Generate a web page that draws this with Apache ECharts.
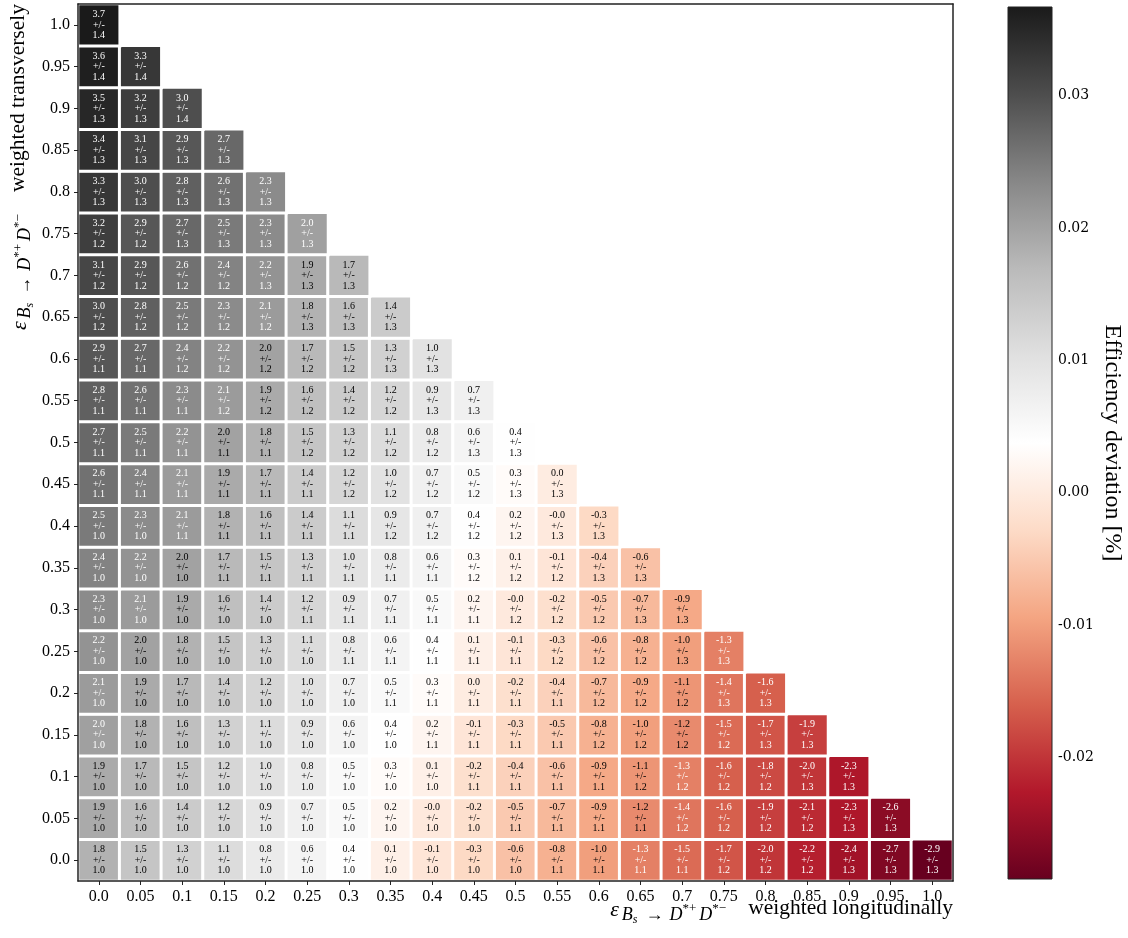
<!DOCTYPE html>
<html><head><meta charset="utf-8">
<script src="https://cdn.jsdelivr.net/npm/echarts@6/dist/echarts.min.js"></script>
<style>html,body{margin:0;padding:0;background:#fff}#c{width:1128px;height:938px}</style>
</head><body><div id="c"></div>
<script>
// ---------- data ----------
const xLabels = ['0.0','0.05','0.1','0.15','0.2','0.25','0.3','0.35','0.4','0.45','0.5','0.55','0.6','0.65','0.7','0.75','0.8','0.85','0.9','0.95','1.0'];
const yLabels = ['0.0','0.05','0.1','0.15','0.2','0.25','0.3','0.35','0.4','0.45','0.5','0.55','0.6','0.65','0.7','0.75','0.8','0.85','0.9','0.95','1.0'];
// valueRows[j] = efficiency deviation [%] for y = yLabels[j], x = xLabels[0..]
const valueRows = [
  [1.8,1.5,1.3,1.1,0.8,0.6,0.4,0.1,-0.1,-0.3,-0.6,-0.8,-1.0,-1.3,-1.5,-1.7,-2.0,-2.2,-2.4,-2.7,-2.92],
  [1.9,1.6,1.4,1.2,0.9,0.7,0.5,0.2,-0.02,-0.2,-0.5,-0.7,-0.9,-1.2,-1.4,-1.6,-1.9,-2.1,-2.3,-2.6],
  [1.9,1.7,1.5,1.2,1.0,0.8,0.5,0.3,0.1,-0.2,-0.4,-0.6,-0.9,-1.1,-1.3,-1.6,-1.8,-2.0,-2.3],
  [2.03,1.8,1.6,1.3,1.1,0.9,0.6,0.4,0.2,-0.1,-0.3,-0.5,-0.8,-1.0,-1.2,-1.5,-1.7,-1.9],
  [2.1,1.9,1.7,1.4,1.2,1.0,0.7,0.5,0.3,0.02,-0.2,-0.4,-0.7,-0.9,-1.1,-1.4,-1.6],
  [2.2,2.0,1.8,1.5,1.3,1.1,0.8,0.6,0.4,0.1,-0.1,-0.3,-0.6,-0.8,-1.0,-1.3],
  [2.3,2.1,1.9,1.6,1.4,1.2,0.9,0.7,0.5,0.2,-0.02,-0.2,-0.5,-0.7,-0.9],
  [2.4,2.2,2.0,1.7,1.5,1.3,1.0,0.8,0.6,0.3,0.1,-0.1,-0.4,-0.6],
  [2.5,2.3,2.1,1.8,1.6,1.4,1.1,0.9,0.7,0.4,0.2,-0.02,-0.3],
  [2.6,2.4,2.1,1.9,1.7,1.4,1.2,1.0,0.7,0.5,0.3,0.02],
  [2.7,2.5,2.2,2.0,1.8,1.5,1.3,1.1,0.8,0.6,0.4],
  [2.8,2.6,2.3,2.1,1.9,1.6,1.4,1.2,0.9,0.7],
  [2.9,2.7,2.4,2.2,2.0,1.7,1.5,1.3,1.0],
  [3.0,2.8,2.5,2.3,2.1,1.8,1.6,1.4],
  [3.1,2.9,2.6,2.4,2.2,1.9,1.7],
  [3.2,2.9,2.7,2.5,2.3,2.03],
  [3.3,3.0,2.8,2.6,2.3],
  [3.4,3.1,2.9,2.7],
  [3.5,3.2,3.0],
  [3.6,3.3],
  [3.67]
];
const errorRows = [
  [1.0,1.0,1.0,1.0,1.0,1.0,1.0,1.0,1.0,1.0,1.0,1.1,1.1,1.1,1.1,1.2,1.2,1.2,1.3,1.3,1.3],
  [1.0,1.0,1.0,1.0,1.0,1.0,1.0,1.0,1.0,1.0,1.1,1.1,1.1,1.1,1.2,1.2,1.2,1.2,1.3,1.3],
  [1.0,1.0,1.0,1.0,1.0,1.0,1.0,1.0,1.0,1.1,1.1,1.1,1.1,1.2,1.2,1.2,1.2,1.3,1.3],
  [1.0,1.0,1.0,1.0,1.0,1.0,1.0,1.0,1.1,1.1,1.1,1.1,1.2,1.2,1.2,1.2,1.3,1.3],
  [1.0,1.0,1.0,1.0,1.0,1.0,1.0,1.1,1.1,1.1,1.1,1.1,1.2,1.2,1.2,1.3,1.3],
  [1.0,1.0,1.0,1.0,1.0,1.0,1.1,1.1,1.1,1.1,1.1,1.2,1.2,1.2,1.3,1.3],
  [1.0,1.0,1.0,1.0,1.0,1.1,1.1,1.1,1.1,1.1,1.2,1.2,1.2,1.3,1.3],
  [1.0,1.0,1.0,1.1,1.1,1.1,1.1,1.1,1.1,1.2,1.2,1.2,1.3,1.3],
  [1.0,1.0,1.1,1.1,1.1,1.1,1.1,1.2,1.2,1.2,1.2,1.3,1.3],
  [1.1,1.1,1.1,1.1,1.1,1.1,1.2,1.2,1.2,1.2,1.3,1.3],
  [1.1,1.1,1.1,1.1,1.1,1.2,1.2,1.2,1.2,1.3,1.3],
  [1.1,1.1,1.1,1.2,1.2,1.2,1.2,1.2,1.3,1.3],
  [1.1,1.1,1.2,1.2,1.2,1.2,1.2,1.3,1.3],
  [1.2,1.2,1.2,1.2,1.2,1.3,1.3,1.3],
  [1.2,1.2,1.2,1.2,1.3,1.3,1.3],
  [1.2,1.2,1.3,1.3,1.3,1.3],
  [1.3,1.3,1.3,1.3,1.3],
  [1.3,1.3,1.3,1.3],
  [1.3,1.3,1.4],
  [1.4,1.4],
  [1.4]
];
const colorbarTicks = [-0.02, -0.01, 0.0, 0.01, 0.02, 0.03];
const rdgy = ['#67001f','#b2182b','#d6604d','#f4a582','#fddbc7','#ffffff','#e0e0e0','#bababa','#878787','#4d4d4d','#1a1a1a'];

// ---------- build ----------
const FAM = '"Liberation Serif", "DejaVu Serif", serif';
const cells = [];
valueRows.forEach((row, j) => row.forEach((v, i) => cells.push([i, j, v, errorRows[j][i]])));
const vals = cells.map(c => c[2]);
const vmin = Math.min(...vals), vmax = Math.max(...vals);
const heatData = cells.map(c => {
  const t = (c[2] - vmin) / (vmax - vmin);
  return { value: c, label: { color: (t > 0.75 || t < 0.25) ? '#ffffff' : '#000000' } };
});

function rt(fs, padTop, italic, padL, padR) {
  return {
    font: (italic ? 'italic ' : '') + fs + 'px ' + FAM,
    fontSize: fs, fontFamily: FAM, fontStyle: italic ? 'italic' : 'normal',
    verticalAlign: 'top', padding: [padTop, padR || 0, 0, padL || 0],
    fill: '#000', color: '#000'
  };
}
// math label laid out on one baseline: main text pad 0, subscripts lowered, superscripts raised
const mathRich = {
  e: rt(22, 2, true, 0, 3),
  b: rt(18, 9, true),
  s: rt(12, 17, true, 0, 2),
  a: rt(18, 9, false, 6, 6),
  p: rt(13, 5, false, 0, 3),
  m: rt(21.5, 0, false, 19, 0)
};
const mathText = '{e|ε}{b|B}{s|s}{a|→}{b|D}{p|*+}{b|D}{p|*−}';

const chart = echarts.init(document.getElementById('c'), null, { renderer: 'canvas' });
const frameLine = { show: true, lineStyle: { color: '#222', width: 1.5 } };

const option = {
  backgroundColor: '#ffffff',
  animation: false,
  grid: [
    { left: 78, top: 4, width: 875, height: 877, outerBoundsMode: 'none', containLabel: false },
    { left: 1008, top: 7, width: 44, height: 872, outerBoundsMode: 'none', containLabel: false }
  ],
  xAxis: [
    { type: 'category', gridIndex: 0, data: xLabels, position: 'bottom', z: 10,
      axisLine: frameLine,
      axisTick: { show: true, alignWithLabel: true, interval: 0, length: 4, lineStyle: { color: '#222', width: 1 } },
      axisLabel: { interval: 0, margin: 8, fontFamily: FAM, fontSize: 16, color: '#000' },
      splitLine: { show: false }, splitArea: { show: false } },
    { type: 'value', gridIndex: 1, min: 0, max: 1, show: false },
    { type: 'category', gridIndex: 0, data: xLabels, position: 'top', z: 10,
      axisLine: frameLine, axisTick: { show: false }, axisLabel: { show: false },
      splitLine: { show: false }, splitArea: { show: false } }
  ],
  yAxis: [
    { type: 'category', gridIndex: 0, data: yLabels, position: 'left', z: 10,
      axisLine: frameLine,
      axisTick: { show: true, alignWithLabel: true, interval: 0, length: 4, lineStyle: { color: '#222', width: 1 } },
      axisLabel: { interval: 0, margin: 8, fontFamily: FAM, fontSize: 16, color: '#000' },
      splitLine: { show: false }, splitArea: { show: false } },
    { type: 'value', gridIndex: 1, min: vmin / 100, max: vmax / 100, position: 'right',
      axisLine: { show: false },
      axisTick: { show: true, customValues: colorbarTicks, length: 5, inside: false, lineStyle: { color: '#222', width: 1 } },
      axisLabel: { customValues: colorbarTicks, margin: 6, fontFamily: '"DejaVu Serif", serif', fontSize: 14, color: '#000',
        formatter: v => v.toFixed(2) },
      splitLine: { show: false } },
    { type: 'category', gridIndex: 0, data: yLabels, position: 'right', z: 10,
      axisLine: frameLine, axisTick: { show: false }, axisLabel: { show: false },
      splitLine: { show: false }, splitArea: { show: false } }
  ],
  visualMap: {
    type: 'continuous', show: false, min: vmin, max: vmax, dimension: 2, seriesIndex: 0,
    inRange: { color: rdgy }
  },
  series: [
    { type: 'heatmap', xAxisIndex: 0, yAxisIndex: 0, data: heatData,
      itemStyle: { borderColor: '#ffffff', borderWidth: 3 },
      emphasis: { disabled: true },
      label: { show: true, fontFamily: FAM, fontSize: 10, lineHeight: 10.5,
        formatter: p => p.value[2].toFixed(1) + '\n+/-\n' + p.value[3].toFixed(1) } },
    { type: 'custom', xAxisIndex: 1, yAxisIndex: 1, silent: true,
      data: [[0, vmax / 100, 1, vmin / 100]],
      renderItem: (params, api) => {
        const p0 = api.coord([api.value(0), api.value(1)]);
        const p1 = api.coord([api.value(2), api.value(3)]);
        const stops = rdgy.slice().reverse().map((c, k) => ({ offset: k / (rdgy.length - 1), color: c }));
        return { type: 'rect',
          shape: { x: p0[0], y: p0[1], width: p1[0] - p0[0], height: p1[1] - p0[1] },
          style: { fill: new echarts.graphic.LinearGradient(0, 0, 0, 1, stops), stroke: '#222', lineWidth: 1 } };
      } }
  ],
  graphic: [
    { type: 'text', x: 953, y: 897, silent: true,
      style: { text: mathText + '{m|weighted longitudinally}', rich: mathRich, font: '22px ' + FAM,
        textAlign: 'right', textVerticalAlign: 'top', fill: '#000' } },
    { type: 'text', x: 7, y: 4, rotation: Math.PI / 2, silent: true,
      style: { text: mathText + '{m|weighted transversely}', rich: mathRich, font: '22px ' + FAM,
        textAlign: 'right', textVerticalAlign: 'top', fill: '#000' } },
    { type: 'text', x: 1112, y: 443, rotation: -Math.PI / 2, silent: true,
      style: { text: 'Efficiency deviation [%]', font: '24px ' + FAM, textAlign: 'center', textVerticalAlign: 'middle', fill: '#000' } }
  ]
};
chart.setOption(option);
</script></body></html>
